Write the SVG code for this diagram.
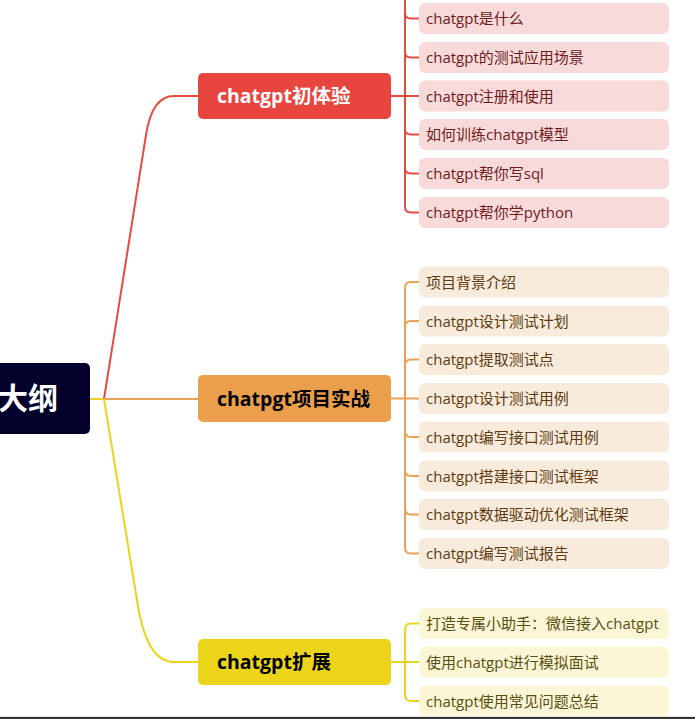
<svg xmlns="http://www.w3.org/2000/svg" width="695" height="719" viewBox="0 0 695 719">
<style>
text{font-family:"Open Sans","Noto Sans CJK SC",sans-serif}
.leaf{font-size:15px}
.main{font-size:19.5px;font-weight:bold}
.r{stroke:#e84a44;fill:none;stroke-width:2}
.o{stroke:#eca159;fill:none;stroke-width:2}
.y{stroke:#ebd41f;fill:none;stroke-width:2}
.rl rect{fill:#f9dada}.rl text{fill:#6e1c1c}
.ol rect{fill:#f9ebdc}.ol text{fill:#5e3b12}
.yl rect{fill:#fbf6d6}.yl text{fill:#5a4f12}
</style>
<rect width="695" height="719" fill="#fff"/>
<g id="connectors">
<path class="y" d="M90,399 L104,399"/>
<path class="r" d="M104,399 L146,135 Q152,96 174,96 L198,96"/>
<path class="o" d="M104,399 L198,399"/>
<path class="y" d="M104,399 L137,600 Q146,662 174,662 L198,662"/>
<path class="r" d="M391,96 L419,96 M405,-30 L405,207 Q405,212.5 411,212.5 L419,212.5 M405,13 Q405,18.5 411,18.5 L419,18.5 M405,52 Q405,57.5 411,57.5 L419,57.5 M405,129 Q405,134.5 411,134.5 L419,134.5 M405,168 Q405,173.5 411,173.5 L419,173.5"/>
<path class="o" d="M391,398.5 L419,398.5 M419,282 L411,282 Q405,282 405,288 L405,547.5 Q405,553.5 411,553.5 L419,553.5 M405,327 Q405,321 411,321 L419,321 M405,365.5 Q405,359.5 411,359.5 L419,359.5 M405,431 Q405,437 411,437 L419,437 M405,470 Q405,476 411,476 L419,476 M405,508.5 Q405,514.5 411,514.5 L419,514.5"/>
<path class="y" d="M391,662 L419,662 M419,623.5 L411,623.5 Q405,623.5 405,629.5 L405,695 Q405,701 411,701 L419,701"/>
</g>
<g id="root">
<rect x="-10" y="363" width="100" height="71" rx="5" fill="#03002b"/>
<text x="-2" y="409" font-size="30" font-weight="600" fill="#fff">大纲</text>
</g>
<g id="n1">
<rect x="198" y="73" width="193" height="46" rx="5" fill="#e8453f"/>
<text class="main" x="217" y="103" fill="#fff">chatgpt初体验</text>
</g>
<g id="n2">
<rect x="198" y="375" width="193" height="47" rx="5" fill="#eb9f4d"/>
<text class="main" x="217" y="405.5" fill="#000">chatpgt项目实战</text>
</g>
<g id="n3">
<rect x="198" y="639" width="193" height="46" rx="5" fill="#ebd41a"/>
<text class="main" x="217" y="669" fill="#000">chatgpt扩展</text>
</g>
<g id="r1" class="rl leaf"><rect x="419" y="3" width="250" height="31" rx="6"/><text x="426" y="24">chatgpt是什么</text></g>
<g id="r2" class="rl leaf"><rect x="419" y="42" width="250" height="31" rx="6"/><text x="426" y="63">chatgpt的测试应用场景</text></g>
<g id="r3" class="rl leaf"><rect x="419" y="80.5" width="250" height="31" rx="6"/><text x="426" y="101.5">chatgpt注册和使用</text></g>
<g id="r4" class="rl leaf"><rect x="419" y="119" width="250" height="31" rx="6"/><text x="426" y="140">如何训练chatgpt模型</text></g>
<g id="r5" class="rl leaf"><rect x="419" y="158" width="250" height="31" rx="6"/><text x="426" y="179">chatgpt帮你写sql</text></g>
<g id="r6" class="rl leaf"><rect x="419" y="197" width="250" height="31" rx="6"/><text x="426" y="218">chatgpt帮你学python</text></g>
<g id="o1" class="ol leaf"><rect x="419" y="266.5" width="250" height="31" rx="6"/><text x="426" y="287.5">项目背景介绍</text></g>
<g id="o2" class="ol leaf"><rect x="419" y="305.5" width="250" height="31" rx="6"/><text x="426" y="326.5">chatgpt设计测试计划</text></g>
<g id="o3" class="ol leaf"><rect x="419" y="344" width="250" height="31" rx="6"/><text x="426" y="365">chatgpt提取测试点</text></g>
<g id="o4" class="ol leaf"><rect x="419" y="383" width="250" height="31" rx="6"/><text x="426" y="404">chatgpt设计测试用例</text></g>
<g id="o5" class="ol leaf"><rect x="419" y="421.5" width="250" height="31" rx="6"/><text x="426" y="442.5">chatgpt编写接口测试用例</text></g>
<g id="o6" class="ol leaf"><rect x="419" y="460.5" width="250" height="31" rx="6"/><text x="426" y="481.5">chatgpt搭建接口测试框架</text></g>
<g id="o7" class="ol leaf"><rect x="419" y="499" width="250" height="31" rx="6"/><text x="426" y="520">chatgpt数据驱动优化测试框架</text></g>
<g id="o8" class="ol leaf"><rect x="419" y="538" width="250" height="31" rx="6"/><text x="426" y="559">chatgpt编写测试报告</text></g>
<g id="y1" class="yl leaf"><rect x="419" y="608" width="250" height="31" rx="6"/><text x="426" y="629">打造专属小助手：微信接入chatgpt</text></g>
<g id="y2" class="yl leaf"><rect x="419" y="646.5" width="250" height="31" rx="6"/><text x="426" y="667.5">使用chatgpt进行模拟面试</text></g>
<g id="y3" class="yl leaf"><rect x="419" y="685.5" width="250" height="31" rx="6"/><text x="426" y="706.5">chatgpt使用常见问题总结</text></g>
<rect x="0" y="716" width="695" height="1" fill="#e6e6e6"/>
<rect x="0" y="717" width="695" height="2" fill="#333"/>
</svg>
